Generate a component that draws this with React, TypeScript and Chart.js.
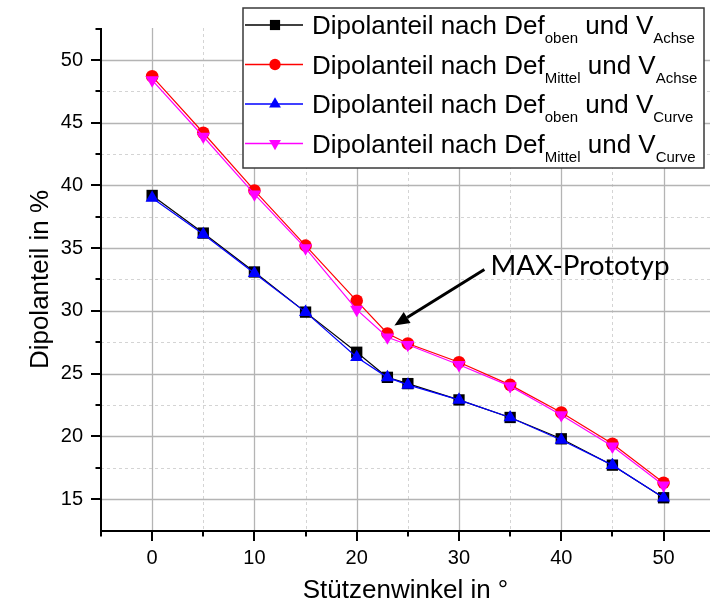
import React, { useEffect, useRef } from "react";
import { Chart, registerables } from "chart.js";

Chart.register(...registerables);

// ---------- data ----------
const angles = [0, 5, 10, 15, 20, 23, 25, 30, 35, 40, 45, 50];
const obenAchse = [39.2, 36.2, 33.1, 29.9, 26.7, 24.7, 24.2, 22.9, 21.5, 19.8, 17.7, 15.1];
const mittelAchse = [48.7, 44.2, 39.6, 35.2, 30.8, 28.2, 27.4, 25.9, 24.1, 21.9, 19.4, 16.3];
const obenCurve = [39.0, 36.1, 33.0, 29.9, 26.3, 24.7, 24.1, 22.9, 21.5, 19.7, 17.7, 15.1];
const mittelCurve = [48.4, 43.9, 39.3, 35.0, 30.1, 27.9, 27.3, 25.7, 24.0, 21.7, 19.2, 16.1];

const xMajorTicks = [0, 10, 20, 30, 40, 50];
const xMinorTicks = [-5, 5, 15, 25, 35, 45];
const yMajorTicks = [15, 20, 25, 30, 35, 40, 45, 50];
const yMinorTicks = [17.5, 22.5, 27.5, 32.5, 37.5, 42.5, 47.5, 52.5];

const xTitle = "Stützenwinkel in °";
const yTitle = "Dipolanteil in %";

const annotationText = "MAX-Prototyp";
const annotationX = 23;
const annotationY = 28.2;

// legend label parts: [text, isSubscript]
const legendLabels: [string, boolean][][] = [
  [["Dipolanteil nach Def", false], ["oben", true], [" und V", false], ["Achse", true]],
  [["Dipolanteil nach Def", false], ["Mittel", true], [" und V", false], ["Achse", true]],
  [["Dipolanteil nach Def", false], ["oben", true], [" und V", false], ["Curve", true]],
  [["Dipolanteil nach Def", false], ["Mittel", true], [" und V", false], ["Curve", true]],
];

const FONT = '"Liberation Sans", Arial, sans-serif';
const ANNOT_FONT = 'Lato, "Open Sans", sans-serif';

const seriesStyles = [
  { color: "#000000", shape: "rect", radius: 8, rotation: 0, order: 4 },
  { color: "#ff0000", shape: "circle", radius: 6.3, rotation: 0, order: 3 },
  { color: "#0000ff", shape: "triangle", radius: 7.6, rotation: 0, order: 2 },
  { color: "#ff00ff", shape: "triangle", radius: 7.6, rotation: 180, order: 1 },
];
const seriesValues = [obenAchse, mittelAchse, obenCurve, mittelCurve];

function drawMarker(ctx: CanvasRenderingContext2D, shape: string, x: number, y: number, r: number, rot: number, color: string) {
  ctx.save();
  ctx.fillStyle = color;
  ctx.beginPath();
  if (shape === "rect") {
    const s = r * Math.SQRT1_2;
    ctx.rect(x - s, y - s, 2 * s, 2 * s);
  } else if (shape === "circle") {
    ctx.arc(x, y, r, 0, Math.PI * 2);
  } else {
    let a = (rot * Math.PI) / 180;
    for (let i = 0; i < 3; i++) {
      const px = x + Math.sin(a) * r;
      const py = y - Math.cos(a) * r;
      if (i === 0) ctx.moveTo(px, py);
      else ctx.lineTo(px, py);
      a += (2 * Math.PI) / 3;
    }
    ctx.closePath();
  }
  ctx.fill();
  ctx.restore();
}

const decorPlugin = {
  id: "decor",
  beforeDatasetsDraw(chart: any) {
    const { ctx, chartArea, scales } = chart;
    const xs = scales.x;
    const ys = scales.y;
    ctx.save();
    ctx.beginPath();
    ctx.rect(chartArea.left, chartArea.top, chartArea.right - chartArea.left, chartArea.bottom - chartArea.top);
    ctx.clip();
    // minor dashed
    ctx.strokeStyle = "#d4d4d4";
    ctx.lineWidth = 1;
    ctx.setLineDash([3, 3]);
    xMinorTicks.forEach((v) => {
      const px = Math.round(xs.getPixelForValue(v)) + 0.5;
      if (px <= chartArea.left + 2) return;
      ctx.beginPath();
      ctx.moveTo(px, chartArea.top);
      ctx.lineTo(px, chartArea.bottom);
      ctx.stroke();
    });
    yMinorTicks.forEach((v) => {
      const py = Math.round(ys.getPixelForValue(v)) + 0.5;
      if (py <= chartArea.top + 2 || py >= chartArea.bottom - 2) return;
      ctx.beginPath();
      ctx.moveTo(chartArea.left, py);
      ctx.lineTo(chartArea.right, py);
      ctx.stroke();
    });
    // major solid
    ctx.setLineDash([]);
    ctx.strokeStyle = "#b4b4b4";
    ctx.lineWidth = 1.3;
    xMajorTicks.forEach((v) => {
      const px = Math.round(xs.getPixelForValue(v)) + 0.5;
      ctx.beginPath();
      ctx.moveTo(px, chartArea.top);
      ctx.lineTo(px, chartArea.bottom);
      ctx.stroke();
    });
    yMajorTicks.forEach((v) => {
      const py = Math.round(ys.getPixelForValue(v)) + 0.5;
      ctx.beginPath();
      ctx.moveTo(chartArea.left, py);
      ctx.lineTo(chartArea.right, py);
      ctx.stroke();
    });
    ctx.restore();
  },
  afterDatasetsDraw(chart: any) {
    const { ctx, chartArea, scales } = chart;
    const xs = scales.x;
    const ys = scales.y;
    ctx.save();
    // axes
    ctx.strokeStyle = "#000";
    ctx.lineWidth = 2;
    ctx.beginPath();
    ctx.moveTo(chartArea.left, chartArea.top);
    ctx.lineTo(chartArea.left, chartArea.bottom);
    ctx.lineTo(chartArea.right, chartArea.bottom);
    ctx.stroke();
    // ticks
    const tick = (v: number, len: number, isX: boolean) => {
      ctx.beginPath();
      if (isX) {
        const px = Math.round(xs.getPixelForValue(v));
        ctx.moveTo(px, chartArea.bottom);
        ctx.lineTo(px, chartArea.bottom + len);
      } else {
        const py = Math.round(ys.getPixelForValue(v));
        ctx.moveTo(chartArea.left, py);
        ctx.lineTo(chartArea.left - len, py);
      }
      ctx.stroke();
    };
    xMajorTicks.forEach((v) => tick(v, 10, true));
    xMinorTicks.forEach((v) => tick(v, 5.5, true));
    yMajorTicks.forEach((v) => tick(v, 10, false));
    yMinorTicks.forEach((v) => tick(v, 5.5, false));

    // axis titles
    ctx.fillStyle = "#000";
    ctx.font = `26px ${FONT}`;
    ctx.textAlign = "center";
    ctx.textBaseline = "middle";
    ctx.fillText(xTitle, (chartArea.left + chartArea.right) / 2, chartArea.bottom + 60);
    ctx.save();
    ctx.translate(chartArea.left - 60, (chartArea.top + chartArea.bottom) / 2);
    ctx.rotate(-Math.PI / 2);
    ctx.font = `26px ${FONT}`;
    ctx.fillText(yTitle, 0, 0);
    ctx.restore();

    // annotation arrow
    const ptx = xs.getPixelForValue(annotationX);
    const pty = ys.getPixelForValue(annotationY);
    const tipX = ptx + 7;
    const tipY = pty - 8;
    const tailX = tipX + 90;
    const tailY = tipY - 56;
    const ang = Math.atan2(tipY - tailY, tipX - tailX);
    const headLen = 15;
    const headW = 6.5;
    const baseX = tipX - Math.cos(ang) * headLen;
    const baseY = tipY - Math.sin(ang) * headLen;
    ctx.strokeStyle = "#000";
    ctx.lineWidth = 3;
    ctx.beginPath();
    ctx.moveTo(tailX, tailY);
    ctx.lineTo(baseX, baseY);
    ctx.stroke();
    ctx.fillStyle = "#000";
    ctx.beginPath();
    ctx.moveTo(tipX, tipY);
    ctx.lineTo(baseX + Math.sin(ang) * headW, baseY - Math.cos(ang) * headW);
    ctx.lineTo(baseX - Math.sin(ang) * headW, baseY + Math.cos(ang) * headW);
    ctx.closePath();
    ctx.fill();
    // annotation text fitted to its width in the reference
    ctx.font = `100px ${ANNOT_FONT}`;
    const w100 = ctx.measureText(annotationText).width;
    const size = Math.min(28, (179 / w100) * 100);
    ctx.font = `${size.toFixed(1)}px ${ANNOT_FONT}`;
    ctx.textAlign = "left";
    ctx.textBaseline = "alphabetic";
    ctx.fillText(annotationText, tailX + 6, tailY + 6);

    // legend
    const lx = 243;
    const ly = 8;
    const lw = 461;
    const lh = 160;
    ctx.fillStyle = "#fff";
    ctx.fillRect(lx, ly, lw, lh);
    ctx.strokeStyle = "#3a3a3a";
    ctx.lineWidth = 1.5;
    ctx.strokeRect(lx, ly, lw, lh);
    legendLabels.forEach((parts, i) => {
      const rowY = ly + 17 + i * 39.5;
      const st = seriesStyles[i];
      ctx.strokeStyle = st.color;
      ctx.lineWidth = 1.3;
      ctx.beginPath();
      ctx.moveTo(lx + 2, rowY);
      ctx.lineTo(lx + 60, rowY);
      ctx.stroke();
      drawMarker(ctx, st.shape, lx + 32, rowY, st.radius * 0.9, st.rotation, st.color);
      let tx = lx + 69;
      ctx.fillStyle = "#000";
      ctx.textAlign = "left";
      ctx.textBaseline = "alphabetic";
      parts.forEach(([t, sub]) => {
        ctx.font = sub ? `15px ${FONT}` : `26px ${FONT}`;
        ctx.fillText(t, tx, rowY + (sub ? 18 : 9));
        tx += ctx.measureText(t).width;
      });
    });
    ctx.restore();
  },
};

export default function App() {
  const ref = useRef<HTMLCanvasElement | null>(null);
  useEffect(() => {
    if (!ref.current) return;
    const chart = new Chart(ref.current, {
      type: "line",
      data: {
        datasets: seriesValues.map((vals, i) => {
          const st = seriesStyles[i];
          return {
            label: `s${i}`,
            data: angles.map((a, j) => ({ x: a, y: vals[j] })),
            borderColor: st.color,
            backgroundColor: st.color,
            borderWidth: 1.2,
            pointStyle: st.shape,
            pointRadius: st.radius,
            pointRotation: st.rotation,
            pointBorderWidth: 0,
            pointBackgroundColor: st.color,
            tension: 0,
            fill: false,
            order: st.order,
          } as any;
        }),
      },
      options: {
        animation: false,
        responsive: false,
        layout: { padding: { top: 28, right: 0, left: 0, bottom: 0 } },
        plugins: {
          legend: { display: false },
          tooltip: { enabled: false },
          title: { display: false },
        },
        scales: {
          x: {
            type: "linear",
            min: -5,
            max: 54.54,
            grid: { display: false },
            border: { display: false },
            ticks: { font: { family: FONT, size: 20 }, color: "#000", padding: 7, maxRotation: 0, autoSkip: false },
            afterBuildTicks: (s: any) => {
              s.ticks = xMajorTicks.map((v) => ({ value: v }));
            },
            afterFit: (s: any) => {
              s.height = 79;
              s.paddingLeft = 0;
              s.paddingRight = 0;
            },
          },
          y: {
            type: "linear",
            min: 12.45,
            max: 52.55,
            grid: { display: false },
            border: { display: false },
            ticks: { font: { family: FONT, size: 20 }, color: "#000", padding: 10, autoSkip: false },
            afterBuildTicks: (s: any) => {
              s.ticks = yMajorTicks.map((v) => ({ value: v }));
            },
            afterFit: (s: any) => {
              s.width = 101;
              s.paddingTop = 0;
              s.paddingBottom = 0;
            },
          },
        },
      } as any,
      plugins: [decorPlugin],
    });
    return () => chart.destroy();
  }, []);
  return (
    <div style={{ position: "fixed", left: 0, top: 0, width: 718, height: 610, background: "#fff" }}>
      <canvas ref={ref} width={718} height={610} style={{ display: "block" }} />
    </div>
  );
}
